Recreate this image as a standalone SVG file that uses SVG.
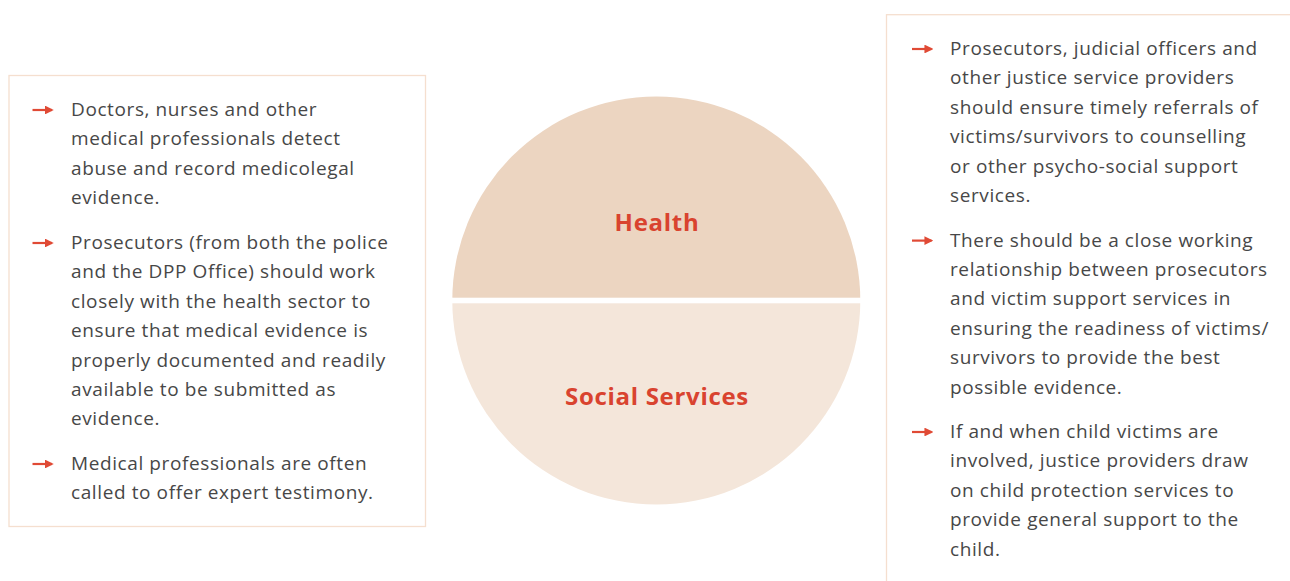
<svg xmlns="http://www.w3.org/2000/svg" width="1290" height="581" viewBox="0 0 1290 581">
<style>
.box{fill:#fff;stroke:#f5dfcf;stroke-width:1.3}
.t{font-family:"Open Sans",Lato,"Liberation Sans",sans-serif;font-size:19px;letter-spacing:0.6px;fill:#474747}
.h{font-family:"Open Sans",Lato,"Liberation Sans",sans-serif;font-size:24px;letter-spacing:0.7px;font-weight:bold;fill:#d9432f;text-anchor:middle}
.ar{stroke:#e04a35;stroke-width:2.2;fill:none}
</style>
<defs>
<marker id="ah" viewBox="0 0 10 10" refX="8" refY="5" markerWidth="4" markerHeight="4" orient="auto" markerUnits="strokeWidth">
<path d="M0,0 L10,5 L0,10 z" fill="#e04a35"/>
</marker>
<clipPath id="cc"><circle cx="656.3" cy="300.5" r="204"/></clipPath>
</defs>
<rect width="1290" height="581" fill="#fff"/>
<g id="circle">
<g clip-path="url(#cc)">
<rect x="450" y="90" width="415" height="207.7" fill="#ecd5c1"/>
<rect x="450" y="303.3" width="415" height="210" fill="#f4e6da"/>
</g>
</g>
<g id="health"><text class="h" x="657" y="231">Health</text></g>
<g id="social"><text class="h" x="657" y="405">Social Services</text></g>
<g id="left-box">
<rect class="box" x="9" y="75.5" width="416.5" height="451"/>
<text class="t" x="71" y="116">Doctors, nurses and other</text>
<text class="t" x="71" y="145.4">medical professionals detect</text>
<text class="t" x="71" y="174.8">abuse and record medicolegal</text>
<text class="t" x="71" y="204.2">evidence.</text>
<text class="t" x="71" y="249">Prosecutors (from both the police</text>
<text class="t" x="71" y="278.4">and the DPP Office) should work</text>
<text class="t" x="71" y="307.8">closely with the health sector to</text>
<text class="t" x="71" y="337.2">ensure that medical evidence is</text>
<text class="t" x="71" y="366.6">properly documented and readily</text>
<text class="t" x="71" y="396">available to be submitted as</text>
<text class="t" x="71" y="425.4">evidence.</text>
<text class="t" x="71" y="470">Medical professionals are often</text>
<text class="t" x="71" y="499.4">called to offer expert testimony.</text>
</g>
<g id="right-box">
<rect class="box" x="886.5" y="14.7" width="420" height="600"/>
<text class="t" x="950" y="55">Prosecutors, judicial officers and</text>
<text class="t" x="950" y="84.4">other justice service providers</text>
<text class="t" x="950" y="113.8">should ensure timely referrals of</text>
<text class="t" x="950" y="143.2">victims/survivors to counselling</text>
<text class="t" x="950" y="172.6">or other psycho-social support</text>
<text class="t" x="950" y="202">services.</text>
<text class="t" x="950" y="246.6">There should be a close working</text>
<text class="t" x="950" y="276">relationship between prosecutors</text>
<text class="t" x="950" y="305.4">and victim support services in</text>
<text class="t" x="950" y="334.8">ensuring the readiness of victims/</text>
<text class="t" x="950" y="364.2">survivors to provide the best</text>
<text class="t" x="950" y="393.6">possible evidence.</text>
<text class="t" x="950" y="438">If and when child victims are</text>
<text class="t" x="950" y="467.4">involved, justice providers draw</text>
<text class="t" x="950" y="496.8">on child protection services to</text>
<text class="t" x="950" y="526.2">provide general support to the</text>
<text class="t" x="950" y="555.6">child.</text>
</g>
<g id="connectors">
<line class="ar" x1="32.5" y1="110" x2="52" y2="110" marker-end="url(#ah)"/>
<line class="ar" x1="32.5" y1="243" x2="52" y2="243" marker-end="url(#ah)"/>
<line class="ar" x1="32.5" y1="464" x2="52" y2="464" marker-end="url(#ah)"/>
<line class="ar" x1="912" y1="49" x2="931.5" y2="49" marker-end="url(#ah)"/>
<line class="ar" x1="912" y1="240.6" x2="931.5" y2="240.6" marker-end="url(#ah)"/>
<line class="ar" x1="912" y1="432" x2="931.5" y2="432" marker-end="url(#ah)"/>
</g>
</svg>
